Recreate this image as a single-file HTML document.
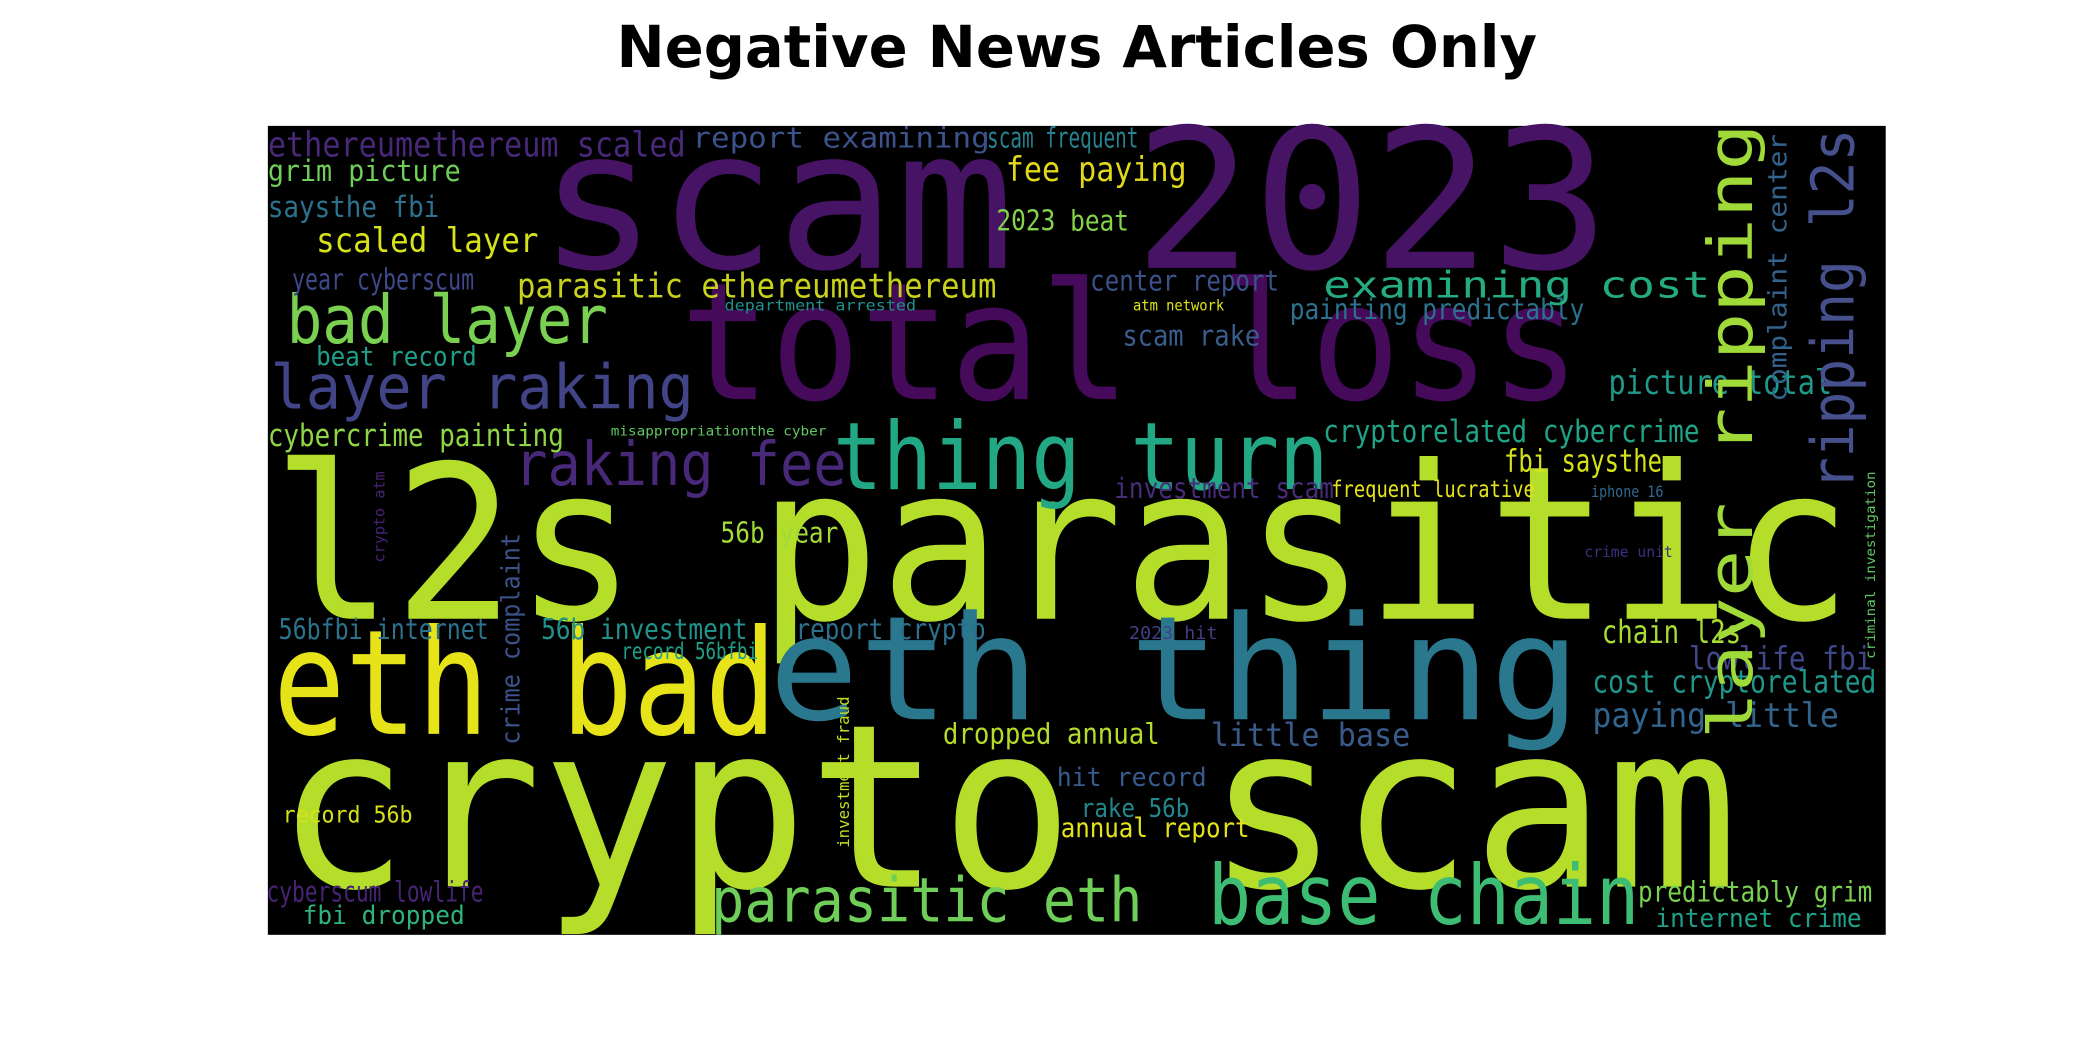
<!DOCTYPE html>
<html><head><meta charset="utf-8"><style>
html,body{margin:0;padding:0;background:#fff;}
svg{display:block;}
text{font-family:"DejaVu Sans Mono","Liberation Mono",monospace;}
</style></head><body>
<svg id="chart" width="2100" height="1050" viewBox="0 0 1568 784" xmlns="http://www.w3.org/2000/svg">
<text x="804" y="50" text-anchor="middle" style="font-family:'DejaVu Sans','Liberation Sans',sans-serif;font-weight:bold;font-size:43px" fill="#000">Negative News Articles Only</text>
<rect x="200" y="94" width="1208" height="604" fill="#000"/>
<g id="words"></g>
</svg>
<script>
// word text, x, baseline y, font size, length, colour, rotation
const words = ["scam 2023","total loss","l2s parasitic","crypto scam","eth bad","eth thing","thing turn","bad layer","layer raking","raking fee","parasitic eth","base chain",
"ethereumethereum scaled","report examining","scam frequent","grim picture","saysthe fbi","scaled layer","year cyberscum","parasitic ethereumethereum","department arrested","beat record",
"fee paying","2023 beat","center report","atm network","painting predictably","examining cost","scam rake","picture total","cryptorelated cybercrime","cybercrime painting",
"misappropriationthe cyber","fbi saysthe","investment scam","frequent lucrative","iphone 16","crime unit","56b year","56bfbi internet","56b investment","report crypto","record 56bfbi",
"2023 hit","chain l2s","lowlife fbi","cost cryptorelated","dropped annual","little base","paying little","hit record","rake 56b","record 56b","annual report",
"predictably grim","internet crime","cyberscum lowlife","fbi dropped",
"layer ripping","ripping l2s","complaint center","criminal investigation","crime complaint","investment fraud","crypto atm"];
const xs = [402,508,203,206,204,574,622,214,202,384,531,902,
200,517,737,200,200,236,218,386,541,236,
751,744,814,846,963,988,838,1201,988,200,
456,1123,832,994,1188,1183,538,208,404,594,464,
843,1196,1261,1189,704,904,1189,789,807,211,792,
1223,1236,199,226,
1308,1384,1334,1400,388,634,287];
const ys = [200,298,462,662,548,537,365,256,305,362,688,690,
117,110,110,135,162,188,216,222,232,273,
135,172,217,232,238,222,258,294,330,333,
325,352,372,371,371,416,405,477,477,477,492,
477,480,500,517,555,557,543,587,610,614,625,
673,692,673,690,
552,366,300,492,556,633,420];
const sizes = [145,122,160,170,109,108,70,50,46,45,46,62,
26,21,21,22,22,25,22,25,11,20,
25,21,21,11,21,27,21,25,23,23,
10,23,21,17,12,11,21,21,21,21,17,
13,24,24,23,21,24,25,19,19,17,20,
21,19,21,19,46,44,19,10,19,12,11];
const lengths = [800,672,1180,1092,376,606,370,240,316,248,322,322,
312,222,113,144,128,166,136,358,143,120,
135,99,141,68,220,289,103,167,281,221,
161,118,164,152,54,66,88,157,154,142,102,
66,104,137,212,162,149,184,112,81,97,141,
175,154,162,121,460,270,200,140,158,113,68];
const colors = ["#471465","#450a5a","#b5de2b","#b5de2b","#e6e419","#2a788e","#22a884","#7ad151","#414487","#482878","#6ece58","#3dbc74",
"#482878","#3b528b","#26828e","#6ece58","#2c728e","#d8e219","#3e4989","#c8d21d","#21918c","#1f9e89",
"#e2d81a","#84d44b","#3b528b","#dde318","#2c728e","#25ab82","#3b5c8c","#1f9a8a","#20a386","#8ed645",
"#5ec962","#d5e21a","#472c7a","#e5e419","#31688e","#3b2f7f","#a2da37","#2c728e","#21918c","#2d708e","#1fa187",
"#433e85","#a8db34","#3f4788","#1f988b","#b5de2b","#3b5a8c","#32648e","#375b8d","#23888e","#d5e21a","#e5e419",
"#7ad151","#1fa088","#482475","#2fb47c",
"#a0da39","#46508d","#33638d","#5ec962","#3b528b","#c0df25","#482173"];
const rotations = [0,0,0,0,0,0,0,0,0,0,0,0,
0,0,0,0,0,0,0,0,0,0,
0,0,0,0,0,0,0,0,0,0,
0,0,0,0,0,0,0,0,0,0,0,
0,0,0,0,0,0,0,0,0,0,0,
0,0,0,0,
-90,-90,-90,-90,-90,-90,-90];

const g = document.getElementById('words');
const NS = 'http://www.w3.org/2000/svg';
for (let i = 0; i < words.length; i++) {
  const t = document.createElementNS(NS, 'text');
  
  
  t.setAttribute('x', xs[i]);
  t.setAttribute('y', ys[i]);
  t.setAttribute('font-size', sizes[i]);
  t.setAttribute('fill', colors[i]);
  t.setAttribute('textLength', lengths[i]);
  t.setAttribute('lengthAdjust', 'spacingAndGlyphs');
  if (rotations[i]) t.setAttribute('transform', 'rotate(' + rotations[i] + ' ' + xs[i] + ' ' + ys[i] + ')');
  t.textContent = words[i];
  g.appendChild(t);
}
</script>
</body></html>
